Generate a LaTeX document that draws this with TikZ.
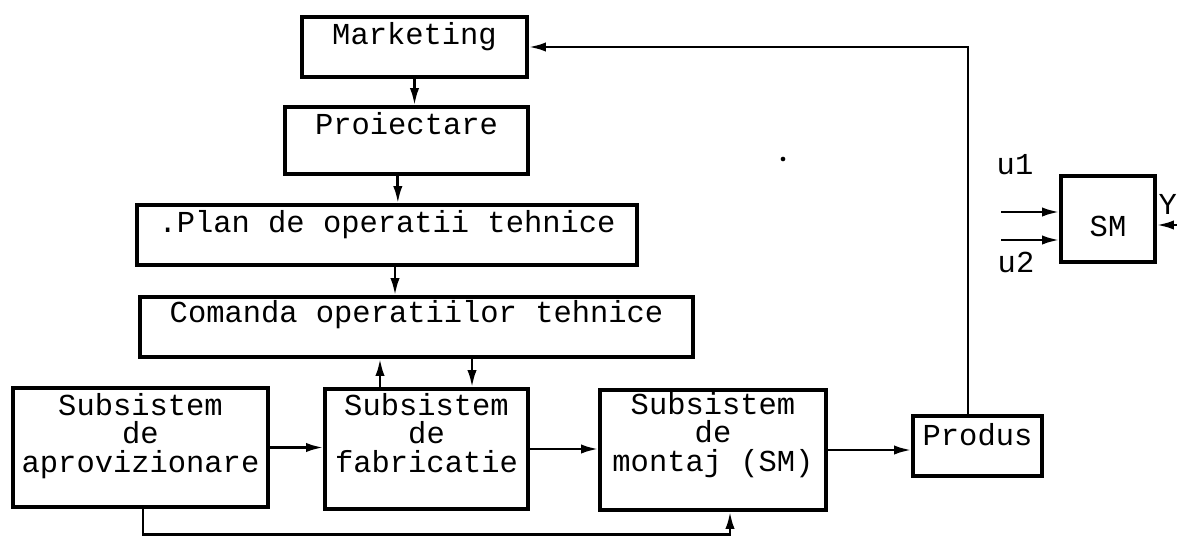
\documentclass[tikz,border=0pt]{standalone}
\usepackage{fontspec}
\setmonofont{Liberation Mono}
\usepackage{tikz}
\usetikzlibrary{positioning,arrows.meta}

\begin{document}
\begin{tikzpicture}[
  x=0.03cm, y=-0.03cm,
  box/.style={rectangle, draw, line width=2.8pt, inner sep=0pt,
    execute at begin node={\centering\spaceskip=0.6em\xspaceskip=0.6em\relax},
    font=\fontsize{26}{24.7}\selectfont\ttfamily},
  arr/.style={-{Latex[length=0.52cm,width=0.28cm]}, line width=2.3pt},
  lbl/.style={font=\fontsize{26}{24.7}\selectfont\ttfamily, inner sep=0pt}
]
\useasboundingbox (0,0) rectangle (1177,536);

% Upper chain: marketing down to the command of operations
\node[box, text width=6.75cm, text height=0.84cm, text depth=0.96cm] (mkt) at (414.5,47) {Marketing};
\node[box, text width=7.29cm, text height=0.84cm, text depth=1.17cm] (proi) at (406.5,140.5) {Proiectare};
\node[box, text width=15cm, text height=0.81cm, text depth=0.99cm] (plan) at (387,235) {.Plan de operatii tehnice};
\node[box, text width=16.59cm, text height=0.75cm, text depth=1.05cm] (cmd) at (416.5,327) {Comanda operatiilor tehnice};

\draw[arr] (mkt.south) -- (mkt.south |- proi.north);
\draw[arr] ([xshift=-0.26cm]proi.south) -- ([xshift=-0.26cm]proi.south |- plan.north);
\draw[arr] ([xshift=0.24cm]plan.south) -- ([xshift=0.24cm]plan.south |- cmd.north);

% Lower chain: subsystems and product
\node[box, text width=7.65cm, text height=0.81cm, text depth=2.76cm] (aprov) at (140.5,447.5) {Subsistem\\de\\aprovizionare};
\node[box, text width=6.09cm, text height=0.78cm, text depth=2.82cm] (fab) at (426.5,449) {Subsistem\\de\\fabricatie};
\node[box, text width=6.78cm, text height=0.72cm, text depth=2.88cm] (mon) at (713,450) {Subsistem\\de\\montaj (SM)};
\node[box, text width=3.87cm, text height=0.87cm, text depth=0.93cm] (prod) at (977.5,446) {Produs};

\draw[arr] ([xshift=-1.395cm]fab.north) -- ([xshift=-1.395cm]fab.north |- cmd.south);
\draw[arr] ([xshift=1.365cm]fab.north |- cmd.south) -- ([xshift=1.365cm]fab.north);
\draw[arr] (aprov.east) -- (aprov.east -| fab.west);
\draw[arr] (fab.east) -- (fab.east -| mon.west);
\draw[arr] (mon.east) -- (mon.east -| prod.west);

% Feedback lines
\draw[arr] ([xshift=-0.285cm]prod.north) |- (mkt.east);
\draw[arr] ([xshift=0.075cm]aprov.south) -- ++(0,26) -| ([xshift=0.51cm]mon.south);

% Small block SM with inputs and output
\node[box, text width=2.82cm, text height=1.8cm, text depth=0.78cm] (sm) at (1108,219) {SM};
\coordinate (in1) at (1001,212);
\coordinate (in2) at (1001,240);
\coordinate (out) at (1185,225);
\draw[arr] (in1) -- (in1 -| sm.west);
\draw[arr] (in2) -- (in2 -| sm.west);
\draw[arr] (out) -- (out -| sm.east);
\node[lbl] (u1) at (1015,165) {u1};
\node[lbl] (u2) at (1016,262) {u2};
\node[lbl, anchor=north east] (ylbl) at (1177,194) {Y};

\fill (783,159) circle (0.07cm);

\end{tikzpicture}
\end{document}
